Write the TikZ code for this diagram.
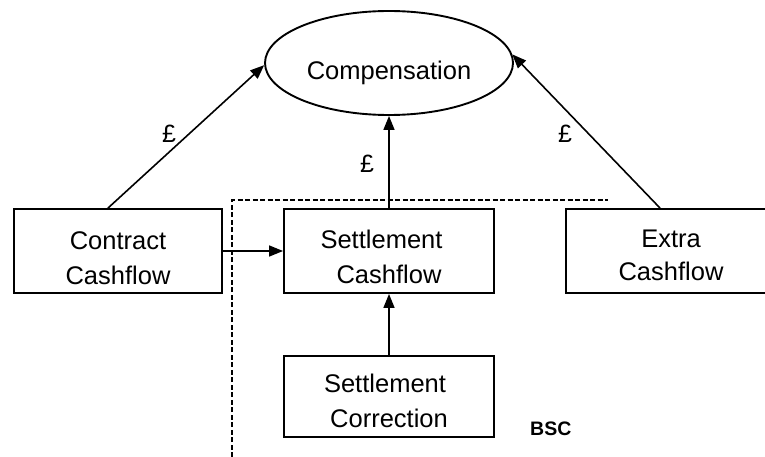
\documentclass[tikz,border=0pt]{standalone}
\usepackage{fontspec}
\setmainfont{Liberation Sans}
\usetikzlibrary{arrows.meta,shapes.geometric}
\newcommand{\tstrut}[1]{\rule{0pt}{#1}}
\begin{document}
\begin{tikzpicture}[x=1pt,y=-1pt,
  box/.style={draw, line width=1.9pt, rectangle, inner sep=2pt, align=center,
    font=\fontsize{25.5}{35}\selectfont},
  conn/.style={line width=1.6pt, -{Triangle[length=14pt,width=11pt]}},
  pound/.style={font=\fontsize{25}{30}\selectfont, inner sep=0pt, anchor=base},
  bscline/.style={line width=2.6pt, dash pattern=on 5pt off 2.5pt}]
\useasboundingbox (0,0) rectangle (765,457);
% BSC boundary
\coordinate (d1) at (232,457);
\coordinate (d2) at (232,200);
\coordinate (d3) at (608,200);
\draw[bscline] (d1) -- (d2) -- (d3);
% nodes
\node[draw, ellipse, line width=1.9pt, minimum width=248pt, minimum height=104pt,
  inner sep=0pt, font=\fontsize{25.5}{30}\selectfont] (comp) at (389,63)
  {\tstrut{39pt}Compensation};
\node[box, minimum width=208pt, minimum height=84pt] (cc) at (118,251)
  {\tstrut{33pt}Contract\\Cashflow};
\node[box, minimum width=210pt, minimum height=84pt] (sc) at (389,251)
  {\tstrut{31pt}\mbox{Settlement\hspace{15pt}}\\Cashflow};
\node[box, minimum width=210pt, minimum height=84pt,
  font=\fontsize{25.5}{33}\selectfont] (ec) at (671,251)
  {\tstrut{27pt}Extra\\Cashflow};
\node[box, minimum width=210pt, minimum height=81pt] (cor) at (389,396.5)
  {\tstrut{28pt}\mbox{Settlement\hspace{8pt}}\\Correction};
% connectors
\draw[conn] ([xshift=-10pt]cc.north) -- (comp.181);
\draw[conn] (sc.north) -- (comp.south);
\draw[conn] ([xshift=-11pt]ec.north) -- (comp.4);
\draw[conn] (cor.north) -- (sc.south);
\draw[conn] (cc.east) -- (sc.west);
% labels
\node[pound] (p1) at (169,143) {£};
\node[pound] (p2) at (367,173) {£};
\node[pound] (p3) at (565,143) {£};
\node[font=\bfseries\fontsize{19.5}{22}\selectfont, anchor=base west, inner sep=0pt]
  (bsc) at (530,435) {BSC};
\end{tikzpicture}
\end{document}
